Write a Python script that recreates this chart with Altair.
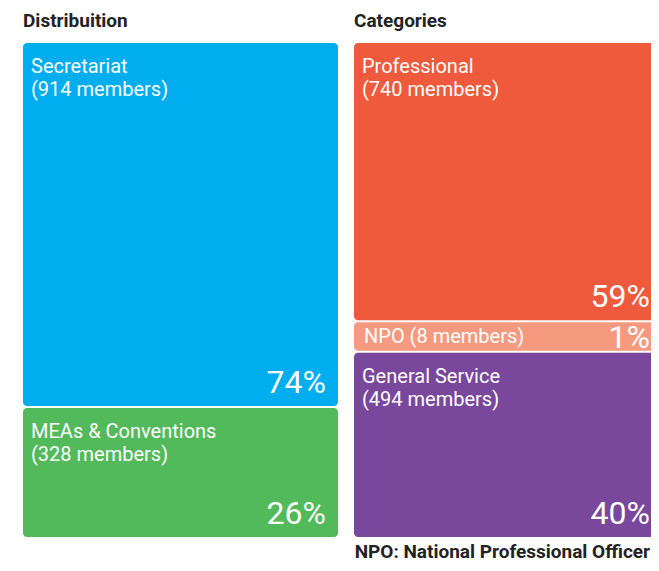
import altair as alt
import pandas as pd

# ---- data ----
panels = ["Distribuition", "Categories"]

dist_names = ["Secretariat", "MEAs & Conventions"]
dist_members = [914, 328]
dist_pct = ["74%", "26%"]
dist_colors = ["#00AEEF", "#52BA5A"]

cat_names = ["Professional", "NPO", "General Service"]
cat_members = [740, 8, 494]
cat_pct = ["59%", "1%", "40%"]
cat_colors = ["#F05A3C", "#F59A7E", "#79479C"]

note = "NPO: National Professional Officer"

# tiny segments get a minimum visible share so that their label fits
MIN_SHARE = 0.065
FONT = "Roboto"


def build(panel, names, members, pct, colors):
    total = sum(members)
    disp = [max(m, MIN_SHARE * total) for m in members]
    dt = sum(disp)
    rows = []
    acc = 0.0
    for n, m, d, p, c in zip(names, members, disp, pct, colors):
        small = d > m
        rows.append({
            "panel": panel, "name": n, "members": m, "pct": p, "color": c,
            "start": acc / dt, "mid": (acc + d / 2) / dt, "end": (acc + d) / dt,
            "small": small,
            "label": f"{n} ({m} members)" if small else f"{n}\n({m} members)",
        })
        acc += d
    return rows


df = pd.DataFrame(
    build(panels[0], dist_names, dist_members, dist_pct, dist_colors)
    + build(panels[1], cat_names, cat_members, cat_pct, cat_colors)
)
titles_df = pd.DataFrame({"panel": panels, "title": panels})
note_df = pd.DataFrame({"note": [note]})

# the right-hand bar runs past the visible edge (it is cut off, as in the original)
xscale = alt.Scale(domain=panels, range=[0, 646], paddingInner=16 / 331, paddingOuter=0)
yscale = alt.Scale(domain=[0, 1], reverse=True, nice=False, zero=True)

base = alt.Chart(df)

bars = base.mark_bar(cornerRadius=4, yOffset=1, y2Offset=-1).encode(
    x=alt.X("panel:N", scale=xscale, axis=None, sort=panels),
    y=alt.Y("start:Q", scale=yscale, axis=None),
    y2="end:Q",
    color=alt.Color("color:N", scale=None),
)

x_left = alt.X("panel:N", scale=xscale, axis=None, sort=panels, bandPosition=0)
x_right = alt.X("panel:N", scale=xscale, axis=None, sort=panels, bandPosition=1)

names_big = base.transform_filter("!datum.small").mark_text(
    align="left", baseline="alphabetic", dx=8, dy=31, fontSize=20,
    lineBreak="\n", lineHeight=23, color="white", font=FONT,
).encode(x=x_left, y=alt.Y("start:Q", scale=yscale), text="label:N")

pct_left = base.transform_filter(
    f"!datum.small && datum.panel == '{panels[0]}'"
).mark_text(
    align="right", baseline="alphabetic", dx=-12, dy=-14, fontSize=32,
    color="white", font=FONT,
).encode(x=x_right, y=alt.Y("end:Q", scale=yscale), text="pct:N")

pct_right = base.transform_filter(
    f"!datum.small && datum.panel == '{panels[1]}'"
).mark_text(
    align="right", baseline="alphabetic", dx=-19, dy=-14, fontSize=32,
    color="white", font=FONT,
).encode(x=x_right, y=alt.Y("end:Q", scale=yscale), text="pct:N")

names_small = base.transform_filter("datum.small").mark_text(
    align="left", baseline="middle", dx=10, dy=1, fontSize=20,
    color="white", font=FONT,
).encode(x=x_left, y=alt.Y("mid:Q", scale=yscale), text="label:N")

pct_small = base.transform_filter("datum.small").mark_text(
    align="right", baseline="middle", dx=-19, dy=2, fontSize=32,
    color="white", font=FONT,
).encode(x=x_right, y=alt.Y("mid:Q", scale=yscale), text="pct:N")

titles = alt.Chart(titles_df).mark_text(
    align="left", baseline="alphabetic", fontSize=19, fontWeight="bold",
    color="#222222", font=FONT,
).encode(x=x_left, y=alt.value(-15), text="title:N")

note_text = alt.Chart(note_df).mark_text(
    align="right", baseline="alphabetic", fontSize=19, fontWeight="bold",
    color="#222222", font=FONT,
).encode(x=alt.value(627), y=alt.value(516), text="note:N")

chart = alt.layer(
    bars, names_big, pct_left, pct_right, names_small, pct_small, titles, note_text
).properties(
    width=628,
    height=496,
    autosize=alt.AutoSizeParams(type="none"),
    padding={"left": 15, "top": 34, "right": 0, "bottom": 25},
    background="white",
).configure_view(stroke=None)

chart.save("out.html", embed_options={"renderer": "svg", "actions": False})
